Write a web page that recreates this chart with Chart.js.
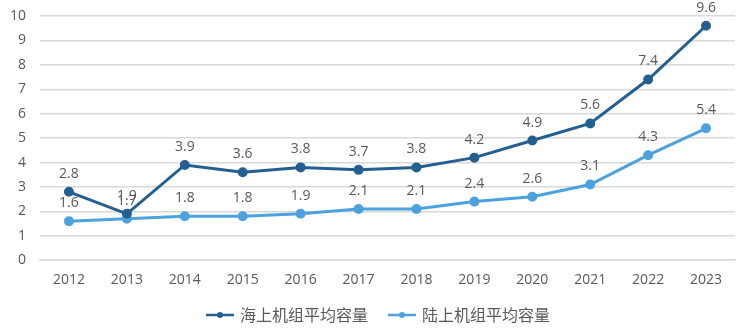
<!DOCTYPE html>
<html>
<head>
<meta charset="utf-8">
<script src="https://cdn.jsdelivr.net/npm/chart.js@4"></script>
<style>
  html, body { margin: 0; padding: 0; background: #fff; }
  #wrap { width: 749px; height: 334px; }
</style>
</head>
<body>
<div id="wrap"><canvas id="lineChart"></canvas></div>
<script>
const years = ['2012','2013','2014','2015','2016','2017','2018','2019','2020','2021','2022','2023'];
const offshore = [2.8, 1.9, 3.9, 3.6, 3.8, 3.7, 3.8, 4.2, 4.9, 5.6, 7.4, 9.6];
const onshore = [1.6, 1.7, 1.8, 1.8, 1.9, 2.1, 2.1, 2.4, 2.6, 3.1, 4.3, 5.4];
const yTicks = [0, 1, 2, 3, 4, 5, 6, 7, 8, 9, 10];

const darkBlue = '#245f91';
const lightBlue = '#4ba2de';
const textColor = '#595959';
const fontFamily = "'Open Sans', 'Noto Sans CJK SC', sans-serif";
const cjkFont = "'Noto Sans CJK SC', sans-serif";

// line-with-dot marker for the legend, blank space on the left acts as item gap
function legendMarker(color){
    const c = document.createElement('canvas');
    c.width = 50; c.height = 10;
    const ctx = c.getContext('2d');
    ctx.strokeStyle = color;
    ctx.lineWidth = 2.5;
    ctx.beginPath();
    ctx.moveTo(18, 5); ctx.lineTo(46, 5);
    ctx.stroke();
    ctx.fillStyle = color;
    ctx.beginPath();
    ctx.arc(32, 5, 3, 0, Math.PI * 2);
    ctx.fill();
    return c;
}

// value labels above every point
const valueLabels = {
    id: 'valueLabels',
    afterDatasetsDraw(chart){
        const ctx = chart.ctx;
        ctx.save();
        ctx.font = '14px ' + fontFamily;
        ctx.fillStyle = textColor;
        ctx.textAlign = 'center';
        ctx.textBaseline = 'middle';
        chart.data.datasets.forEach((ds, i) => {
            chart.getDatasetMeta(i).data.forEach((pt, j) => {
                ctx.fillText(ds.data[j].toFixed(1), pt.x, pt.y - 18);
            });
        });
        ctx.restore();
    }
};

new Chart(document.getElementById('lineChart'), {
    type: 'line',
    data: {
        labels: years,
        datasets: [
            {
                label: '海上机组平均容量',
                data: offshore,
                borderColor: darkBlue,
                backgroundColor: darkBlue,
                borderWidth: 3,
                pointRadius: 3.5,
                pointHoverRadius: 3.5,
                fill: false
            },
            {
                label: '陆上机组平均容量',
                data: onshore,
                borderColor: lightBlue,
                backgroundColor: lightBlue,
                borderWidth: 3,
                pointRadius: 3.5,
                pointHoverRadius: 3.5,
                fill: false
            }
        ]
    },
    options: {
        responsive: true,
        maintainAspectRatio: false,
        animation: false,
        layout: { padding: { left: 9, right: 14, top: 16, bottom: 1 } },
        scales: {
            x: {
                offset: true,
                grid: { display: false, drawTicks: false },
                border: { display: true, color: '#d9d9d9', width: 1.5 },
                ticks: { color: textColor, font: { size: 14, family: fontFamily }, padding: 11 }
            },
            y: {
                min: 0,
                max: 10,
                afterBuildTicks: axis => { axis.ticks = yTicks.map(v => ({ value: v })); },
                afterFit: axis => { axis.width = 31; axis.paddingTop = 0; axis.paddingBottom = 0; },
                grid: { color: '#d9d9d9', lineWidth: 1.5, drawTicks: false },
                border: { display: false },
                ticks: { color: textColor, font: { size: 14, family: fontFamily }, padding: 14 }
            }
        },
        plugins: {
            legend: {
                position: 'bottom',
                labels: {
                    color: textColor,
                    font: { size: 16, family: cjkFont },
                    usePointStyle: true,
                    pointStyleWidth: 38,
                    padding: 8,
                    generateLabels: chart => chart.data.datasets.map((ds, i) => ({
                        text: ds.label,
                        pointStyle: legendMarker(ds.borderColor),
                        fontColor: textColor,
                        datasetIndex: i,
                        hidden: false,
                        lineWidth: 0
                    }))
                }
            },
            tooltip: { enabled: false }
        }
    },
    plugins: [valueLabels]
});
</script>
</body>
</html>
